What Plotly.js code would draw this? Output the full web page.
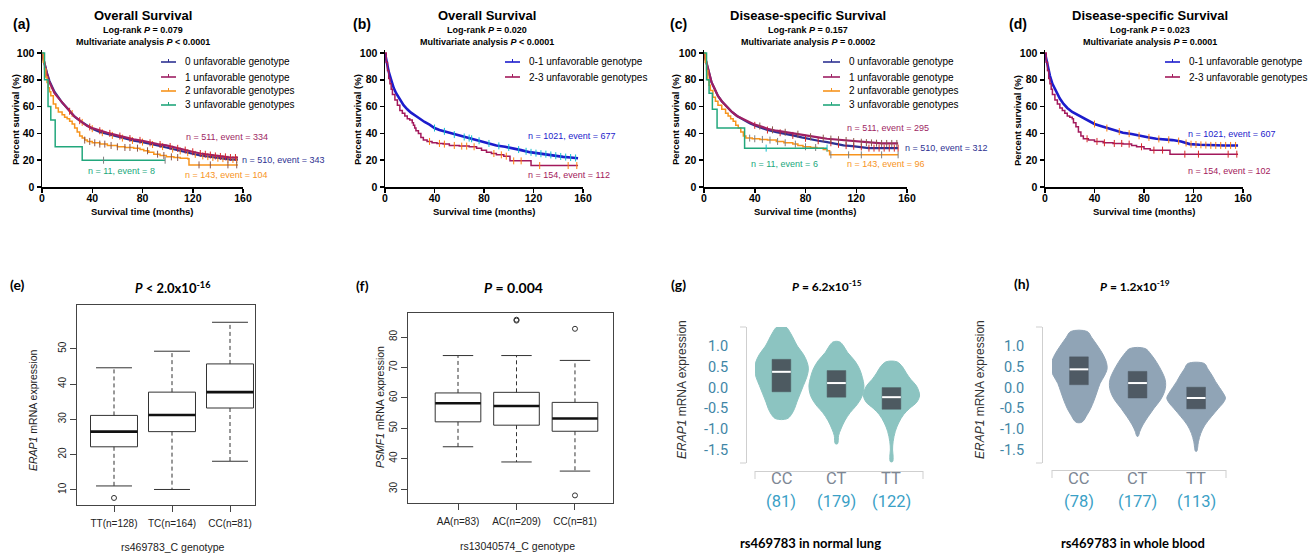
<!DOCTYPE html>
<html><head><meta charset="utf-8">
<script src="https://cdn.plot.ly/plotly-3.0.1.min.js"></script>
<style>html,body{margin:0;padding:0;background:#fff}#chart{width:1311px;height:556px}</style>
</head><body><div id="chart"></div>
<script>
// ---------------- DATA ----------------
// Kaplan-Meier curves (time in months, survival %), censor times
const km_xticks = [0, 40, 80, 120, 160];
const km_yticks = [0, 20, 40, 60, 80, 100];

// (a) Overall survival, 4 groups
const a0_t = [0,2,4,6,8,10,13,16,20,23,26,30,33,36,40,46,52,60,66,73,80,86,92,99,105,112,119,126,133,139,146,150,156];
const a0_s = [100,92,85,79,75,71,67,63,59,56,52.5,49.5,47.5,45.5,43.5,41,39.5,37.5,36,34.5,33.5,32,31,29.5,28,26.5,25,23.5,22.5,21.5,21,20.5,20.5];
const a0_c = [24,32,40,48,56,64,72,80,88,96,104,110,116,122,128,132,136,140,144,148,152,155];
const a1_t = [0,2,4,6,8,10,13,16,20,23,26,30,33,36,40,46,52,60,66,73,80,86,92,99,105,112,119,126,133,139,146,150,156];
const a1_s = [100,91,84,78,74,70,66.5,63,58.5,55.5,52.5,49.5,47.5,45.5,44,42,40.5,38.5,37,35.5,34.5,33,32,31,29.5,28,26.5,25,24,23,22.5,22,22];
const a1_c = [22,30,38,46,54,62,70,78,86,94,102,108,114,120,126,130,134,138,142,146,150,154];
const a2_t = [0,1,2,3,4,5,6,7,9,11,13,16,18,20,22,24,26,28,30,32,34,36,40,46,52,60,66,73,78,81,85,89,94,99,105,110,116,117,125,140,156];
const a2_s = [100,93,88,82,78,74,71,68,62,59,56,54,52,51,49,47,44,41,38,36.5,35,34,33,32,31,30,29.5,29,28,27,26,24.5,23.5,22.5,22,21.5,21,16.5,16.5,16.5,16.5];
const a2_c = [34,38,42,46,50,55,60,66,70,76,84,92,97,103,108,125,134,148,155];
const a3_t = [0,2,4.8,7,10.5,32,98];
const a3_s = [100,80,60,50,30,20,20];
const a3_c = [49,98];

// (b) Overall survival, 2 groups
const b0_t = [0,1,2,3,5,7,9,12,15,18,21,25,28,32,36,40,44,48,53,58,63,68,74,80,86,90,97,103,110,117,124,130,137,144,150,156];
const b0_s = [100,95,90,86,80,74,70,65,61,58,55.5,53,51,48.5,46.5,44,42.5,41.5,40,38.5,37.5,36.5,35,33.5,32,31,30,29,27.5,26,25,24.5,23.5,22.5,22,21.5];
const b0_c = [40,48,56,64,68,70,76,84,92,100,108,114,118,122,126,130,134,138,142,146,150,154];
const b1_t = [0,1,2,3,4,5,6,8,10,12,14,16,18,20,22,23,24,25,27,29,31,34,38,42,47,52,60,68,74,78,82,86,90,96,101,106,112,118,125,140,156];
const b1_s = [100,93,87,81,77,73,69,65,61,57,55,53,51,50,48,46,44,42,40,37,35,34,33,32.5,32,31,30.5,30,29,27.5,26,25,24,23,19.5,19.5,19.5,16,16,16,16];
const b1_c = [36,44,48,56,62,66,72,88,94,98,104,110,125,148,155];

// (c) Disease-specific survival, 4 groups
const c0_t = [0,2,4,6,8,11,14,18,22,26,31,36,40,44,50,57,63,70,77,84,90,97,103,110,117,123,130,140,153];
const c0_s = [100,92,84,78,74,68,64,60,56,53,50,47.5,46,44.5,42.5,41,40,38.5,37,35.5,34.5,33.5,32.5,31,30.5,30,29,29,29];
const c0_c = [40,50,60,70,80,90,100,106,112,118,124,130,134,138,142,146,150,153];
const c1_t = [0,2,4,6,8,11,14,18,22,26,31,36,40,44,50,57,63,70,77,84,90,97,103,110,117,123,130,140,153];
const c1_s = [100,92,84,78,74,68,64,60,56,53,50.5,48,46.5,45.5,43.5,42,41,40,39,37.5,37,36,35.5,35,34,33.5,33,32.5,32.5];
const c1_c = [44,54,64,74,84,94,100,106,112,118,124,128,132,136,140,144,148,152];
const c2_t = [0,1,2,3,4,5,7,9,11,14,17,19,21,23,25,27,29,31,33,38,44,50,57,63,70,74,78,84,89,94,97,99,110,130,153];
const c2_s = [100,93,87,80,76,72,67,64,61,58,55,53,51,49,46,44,41,38,36.5,36,35.5,35,34,33,32,31,30,29.5,29,28,27,24,24,24,24];
const c2_c = [36,40,46,52,58,64,72,80,88,100,114,124,140,153];
const c3_t = [0,2,4,6.6,10.3,32,97];
const c3_s = [100,80,70,58,44,29,29];
const c3_c = [49,97];

// (d) Disease-specific survival, 2 groups
const d0_t = [0,1,2,4,6,9,12,15,18,22,25,28,32,36,40,45,50,56,63,70,77,84,90,97,103,110,117,125,135,145,156];
const d0_s = [100,95,90,83,77,71,66,62,59,56,54.5,53,51,49,47,45.5,44,42.5,40.5,39.5,38,37,36,35.5,35,34,32,31.5,31,31,31];
const d0_c = [40,50,60,68,76,84,92,100,108,114,118,122,126,130,134,138,142,146,150,154];
const d1_t = [0,1,2,3,4,5,6,8,10,12,14,16,18,20,22,23,25,27,29,31,35,40,47,55,63,70,74,80,85,92,98,101,115,130,156];
const d1_s = [100,93,87,81,77,73,69,65,62,59,57,55,53,52,51,48,45,41,38,36,35,34,33,32.5,32,31,30,28.5,27.5,27.5,27.5,24.5,24.5,24.5,24.5];
const d1_c = [34,42,48,56,62,68,78,88,95,113,124,148,155];

const names4 = ["0 unfavorable genotype","1 unfavorable genotype","2 unfavorable genotypes","3 unfavorable genotypes"];
const names2 = ["0-1 unfavorable genotype","2-3 unfavorable genotypes"];

// (e) ERAP1 boxplot
const e_groups = ["TT(n=128)","TC(n=164)","CC(n=81)"];
const e_lo  = [11.1,10.1,18.1];
const e_q1  = [22.2,26.5,33.2];
const e_med = [26.5,31.2,37.7];
const e_q3  = [31.1,37.7,45.7];
const e_hi  = [44.6,49.3,57.5];
const e_out_g = [0];
const e_out_v = [7.7];
const e_yticks = [10,20,30,40,50];

// (f) PSMF1 boxplot
const f_groups = ["AA(n=83)","AC(n=209)","CC(n=81)"];
const f_lo  = [43.9,38.9,35.9];
const f_q1  = [52.1,51.0,49.0];
const f_med = [58.2,57.3,53.2];
const f_q3  = [61.6,61.8,58.5];
const f_hi  = [73.9,73.9,72.3];
const f_out_g = [1,1,2,2];
const f_out_v = [85.4,85.7,82.7,27.9];
const f_yticks = [30,40,50,60,70,80];

// (g) violins, normal lung
const g_groups = ["CC","CT","TT"];
const g_counts = ["(81)","(179)","(122)"];
const g_q1  = [-0.10,-0.23,-0.52];
const g_med = [0.38,0.11,-0.23];
const g_q3  = [0.68,0.41,0.00];
const g_cc_y = [1.46,1.3,1.15,1.0,0.8,0.6,0.45,0.25,0.05,-0.15,-0.35,-0.5,-0.65,-0.75];
const g_cc_w = [0.08,0.17,0.23,0.29,0.40,0.47,0.49,0.46,0.40,0.34,0.28,0.24,0.18,0.10];
const g_ct_y = [1.1,1.0,0.85,0.65,0.45,0.25,0.05,-0.15,-0.3,-0.45,-0.6,-0.8,-1.0,-1.15,-1.35];
const g_ct_w = [0.06,0.13,0.20,0.33,0.42,0.47,0.50,0.48,0.43,0.35,0.25,0.15,0.08,0.04,0.02];
const g_tt_y = [0.62,0.5,0.35,0.2,0.05,-0.1,-0.2,-0.35,-0.5,-0.65,-0.85,-1.05,-1.3,-1.5,-1.65,-1.78];
const g_tt_w = [0.10,0.20,0.27,0.35,0.45,0.50,0.51,0.46,0.33,0.22,0.13,0.07,0.03,0.02,0.03,0.02];

// (h) violins, whole blood
const h_groups = ["CC","CT","TT"];
const h_counts = ["(78)","(177)","(113)"];
const h_q1  = [0.07,-0.25,-0.51];
const h_med = [0.44,0.11,-0.25];
const h_q3  = [0.74,0.39,0.01];
const h_cc_y = [1.35,1.2,1.0,0.8,0.6,0.45,0.3,0.1,-0.1,-0.3,-0.5,-0.65,-0.83];
const h_cc_w = [0.14,0.22,0.32,0.41,0.47,0.48,0.44,0.36,0.31,0.26,0.20,0.14,0.05];
const h_ct_y = [0.94,0.8,0.6,0.4,0.2,0.05,-0.1,-0.3,-0.5,-0.7,-0.9,-1.05,-1.17];
const h_ct_w = [0.13,0.23,0.33,0.41,0.47,0.48,0.46,0.39,0.28,0.18,0.09,0.04,0.01];
const h_tt_y = [0.58,0.45,0.3,0.15,0.0,-0.15,-0.25,-0.35,-0.5,-0.7,-0.9,-1.1,-1.3,-1.53];
const h_tt_w = [0.14,0.20,0.27,0.33,0.40,0.47,0.50,0.47,0.38,0.26,0.15,0.08,0.04,0.01];

const v_yticks = [-1.5,-1.0,-0.5,0.0,0.5,1.0];
const v_yticktext = ["-1.5","-1.0","-0.5","0.0","0.5","1.0"];

// ---------------- HELPERS ----------------
const W = 1311, H = 556;
const px = v => v / W, py = v => 1 - v / H;
const F = 'Liberation Sans, Arial, sans-serif';
const FC = 'Lato, "Open Sans", sans-serif';
const FR = 'Roboto, "Liberation Sans", sans-serif';

const C_navy = '#2e3192', C_crim = '#9e1f63', C_org = '#f7941d', C_grn = '#22a77c';
const C_blue = '#1c1ccc', C_crim2 = '#a3195b';

function stepAt(t, s, c) { let v = s[0]; for (let i = 0; i < t.length; i++) { if (t[i] <= c) v = s[i]; } return v; }
function linAt(t, s, c) {
  for (let i = 1; i < t.length; i++) {
    if (c <= t[i]) { const f = (c - t[i-1]) / (t[i] - t[i-1]); return s[i-1] + f * (s[i] - s[i-1]); }
  }
  return s[s.length - 1];
}

const traces = [];
function km(t, s, c, color, name, n, shape, width) {
  const xa = 'x' + (n === 1 ? '' : n), ya = 'y' + (n === 1 ? '' : n);
  traces.push({type:'scatter', mode:'lines', x:t, y:s, name:name, xaxis:xa, yaxis:ya,
    line:{color:color, width:width, shape:shape}, hoverinfo:'skip'});
  const f = shape === 'linear' ? linAt : stepAt;
  traces.push({type:'scatter', mode:'markers', x:c, y:c.map(v => f(t, s, v)), name:name + ' (censored)',
    xaxis:xa, yaxis:ya, marker:{symbol:'line-ns-open', size:5, line:{color:color, width:1}}, hoverinfo:'skip'});
}
// (a)
km(a0_t, a0_s, a0_c, C_navy, names4[0], 1, 'linear', 2.2);
km(a1_t, a1_s, a1_c, C_crim, names4[1], 1, 'linear', 2.2);
km(a2_t, a2_s, a2_c, C_org, names4[2], 1, 'hv', 1.5);
km(a3_t, a3_s, a3_c, C_grn, names4[3], 1, 'hv', 1.5);
// (b)
km(b0_t, b0_s, b0_c, C_blue, names2[0], 2, 'linear', 2.6);
km(b1_t, b1_s, b1_c, C_crim2, names2[1], 2, 'hv', 1.5);
// (c)
km(c0_t, c0_s, c0_c, C_navy, names4[0], 3, 'linear', 2.2);
km(c1_t, c1_s, c1_c, C_crim, names4[1], 3, 'linear', 2.2);
km(c2_t, c2_s, c2_c, C_org, names4[2], 3, 'hv', 1.5);
km(c3_t, c3_s, c3_c, C_grn, names4[3], 3, 'hv', 1.5);
// (d)
km(d0_t, d0_s, d0_c, C_blue, names2[0], 4, 'linear', 2.6);
km(d1_t, d1_s, d1_c, C_crim2, names2[1], 4, 'hv', 1.5);

// R-style boxplots
function rbox(lo, q1, med, q3, hi, og, ov, n, hw, cw) {
  const xa = 'x' + n, ya = 'y' + n;
  const bx = [], by = [], mx = [], my = [], wx = [], wy = [], cx = [], cy = [];
  for (let i = 0; i < q1.length; i++) {
    bx.push(i-hw, i+hw, i+hw, i-hw, i-hw, null); by.push(q1[i], q1[i], q3[i], q3[i], q1[i], null);
    mx.push(i-hw, i+hw, null); my.push(med[i], med[i], null);
    wx.push(i, i, null, i, i, null); wy.push(q3[i], hi[i], null, q1[i], lo[i], null);
    cx.push(i-cw, i+cw, null, i-cw, i+cw, null); cy.push(hi[i], hi[i], null, lo[i], lo[i], null);
  }
  traces.push({type:'scatter', mode:'lines', x:wx, y:wy, xaxis:xa, yaxis:ya, line:{color:'#333', width:1, dash:'4px,3px'}, hoverinfo:'skip'});
  traces.push({type:'scatter', mode:'lines', x:cx, y:cy, xaxis:xa, yaxis:ya, line:{color:'#333', width:1}, hoverinfo:'skip'});
  traces.push({type:'scatter', mode:'lines', x:bx, y:by, xaxis:xa, yaxis:ya, fill:'none', line:{color:'#333', width:1}, hoverinfo:'skip'});
  traces.push({type:'scatter', mode:'lines', x:mx, y:my, xaxis:xa, yaxis:ya, line:{color:'#111', width:2.6}, hoverinfo:'skip'});
  traces.push({type:'scatter', mode:'markers', x:og, y:ov, xaxis:xa, yaxis:ya, marker:{symbol:'circle-open', size:5, color:'#333', line:{width:1}}, hoverinfo:'skip'});
}
rbox(e_lo, e_q1, e_med, e_q3, e_hi, e_out_g, e_out_v, 5, 0.405, 0.31);
rbox(f_lo, f_q1, f_med, f_q3, f_hi, f_out_g, f_out_v, 6, 0.39, 0.26);

// violins
function violin(pos, ys, ws, color, n) {
  const x = ws.map(w => pos + w).concat(ws.slice().reverse().map(w => pos - w));
  const y = ys.concat(ys.slice().reverse());
  x.push(x[0]); y.push(y[0]);
  traces.push({type:'scatter', mode:'lines', x:x, y:y, xaxis:'x'+n, yaxis:'y'+n, fill:'toself', fillcolor:color,
    line:{color:color, width:1, shape:'spline', smoothing:1}, hoverinfo:'skip'});
}
function vbox(q1, med, q3, hw, dark, n) {
  for (let i = 0; i < q1.length; i++) {
    traces.push({type:'scatter', mode:'lines', x:[i-hw, i+hw, i+hw, i-hw, i-hw], y:[q1[i], q1[i], q3[i], q3[i], q1[i]],
      xaxis:'x'+n, yaxis:'y'+n, fill:'toself', fillcolor:dark, line:{color:dark, width:0.5}, hoverinfo:'skip'});
    traces.push({type:'scatter', mode:'lines', x:[i-hw, i+hw], y:[med[i], med[i]], xaxis:'x'+n, yaxis:'y'+n,
      line:{color:'#ffffff', width:2}, hoverinfo:'skip'});
  }
}
const G_fill = '#8cc4c1', G_dark = '#4d5a61';
const Hh_fill = '#90a4b6', Hh_dark = '#4f5a64';
violin(0, g_cc_y, g_cc_w, G_fill, 7);
violin(1, g_ct_y, g_ct_w, G_fill, 7);
violin(2, g_tt_y, g_tt_w, G_fill, 7);
vbox(g_q1, g_med, g_q3, 0.17, G_dark, 7);
violin(0, h_cc_y, h_cc_w, Hh_fill, 8);
violin(1, h_ct_y, h_ct_w, Hh_fill, 8);
violin(2, h_tt_y, h_tt_w, Hh_fill, 8);
vbox(h_q1, h_med, h_q3, 0.16, Hh_dark, 8);

// ---------------- AXES ----------------
const layout = {
  width: W, height: H, margin:{l:0, r:0, t:0, b:0}, paper_bgcolor:'#fff', plot_bgcolor:'rgba(0,0,0,0)',
  showlegend:false, font:{family:F, color:'#000'}, annotations:[], shapes:[]
};
function kmAxes(n, x0, x1) {
  const sx = n === 1 ? 'xaxis' : 'xaxis' + n, sy = n === 1 ? 'yaxis' : 'yaxis' + n;
  const ax = n === 1 ? 'x' : 'x' + n, ay = n === 1 ? 'y' : 'y' + n;
  const tf = {family:F, size:10.5, color:'#000', weight:'bold'};
  layout[sx] = {domain:[px(x0), px(x1)], anchor:ay, range:[0,160], tickvals:km_xticks, ticks:'outside', ticklen:4, tickwidth:1.5,
    tickcolor:'#000', showline:true, linewidth:1.5, linecolor:'#000', showgrid:false, zeroline:false, tickfont:tf, ticklabelstandoff:-3};
  layout[sy] = {domain:[py(187), py(50.3)], anchor:ax, range:[0,102], tickvals:km_yticks, ticks:'outside', ticklen:4, tickwidth:1.5,
    tickcolor:'#000', showline:true, linewidth:1.5, linecolor:'#000', showgrid:false, zeroline:false, tickfont:tf};
}
kmAxes(1, 42, 243);
kmAxes(2, 385, 583);
kmAxes(3, 704, 907);
kmAxes(4, 1045, 1243);

function boxAxes(n, x0, x1, y0, y1, xr, yr, groups, yt) {
  const tf = {family:F, size:10, color:'#222'};
  layout['xaxis'+n] = {domain:[px(x0), px(x1)], anchor:'y'+n, range:xr, tickvals:groups.map((g,i)=>i), ticktext:groups,
    ticks:'outside', ticklen:6, tickcolor:'#444', showline:true, mirror:true, linecolor:'#444', linewidth:1, showgrid:false, zeroline:false,
    tickfont:tf, ticklabelstandoff:3};
  layout['yaxis'+n] = {domain:[py(y1), py(y0)], anchor:'x'+n, range:yr, tickvals:yt, tickangle:-90,
    ticks:'outside', ticklen:6, tickcolor:'#444', showline:true, mirror:true, linecolor:'#444', linewidth:1, showgrid:false, zeroline:false, tickfont:tf};
}
boxAxes(5, 77, 255, 305, 505, [-0.638, 2.431], [5.7, 62.4], e_groups, e_yticks);
boxAxes(6, 408, 613, 313, 503, [-0.855, 2.65], [25.4, 87.9], f_groups, f_yticks);

function vAxes(n, x0, x1, yax, xline, xr) {
  layout['xaxis'+n] = {domain:[px(x0), px(x1)], anchor:'free', position:py(xline), range:xr, showticklabels:false, ticks:'',
    tickvals:[], showline:true, linecolor:'#cfcfcf', linewidth:1, showgrid:false, zeroline:false};
  layout['yaxis'+n] = {domain:[py(463), py(327)], anchor:'free', position:px(yax), range:[-1.813, 1.458], tickvals:v_yticks, ticktext:v_yticktext,
    ticks:'outside', ticklen:15, tickcolor:'rgba(0,0,0,0)', showline:true, linecolor:'#cfcfcf', linewidth:1, showgrid:false, zeroline:false,
    tickfont:{family:FR, size:14.5, color:'#3f86a6'}};
}
vAxes(7, 755, 923, 746, 471, [-0.48, 2.573]);
vAxes(8, 1052, 1226, 1042, 470, [-0.46, 2.51]);

// ---------------- TEXT ----------------
function ann(text, x, y, font, o) {
  layout.annotations.push(Object.assign({text:text, x:px(x), y:py(y), xref:'paper', yref:'paper', showarrow:false,
    xanchor:'center', yanchor:'middle', font:Object.assign({family:F, size:10, color:'#000'}, font)}, o || {}));
}
// panel labels
[["(a)",21,24],["(b)",362,24],["(c)",678,24],["(d)",1018,24]].forEach(p => ann('<b>'+p[0]+'</b>', p[1], p[2], {size:14}));
[["(e)",17,284],["(f)",362,285],["(g)",678,284],["(h)",1022,283]].forEach(p => ann('<b>'+p[0]+'</b>', p[1], p[2], {family:FC, size:14}));

// KM titles
const kmTitles = [
  [143, "Overall Survival", "Log-rank <i>P</i> = 0.079", "Multivariate analysis <i>P</i> &lt; 0.0001"],
  [487, "Overall Survival", "Log-rank <i>P</i> = 0.020", "Multivariate analysis <i>P</i> &lt; 0.0001"],
  [808, "Disease-specific Survival", "Log-rank <i>P</i> = 0.157", "Multivariate analysis <i>P</i> = 0.0002"],
  [1150, "Disease-specific Survival", "Log-rank <i>P</i> = 0.023", "Multivariate analysis <i>P</i> = 0.0001"]
];
kmTitles.forEach(t => {
  ann('<b>'+t[1]+'</b>', t[0], 15, {size:13});
  ann('<b>'+t[2]+'</b>', t[0], 30, {size:9});
  ann('<b>'+t[3]+'</b>', t[0], 42, {size:9});
});
// KM axis titles
[[15,142],[357,484],[675,805],[1017,1144]].forEach(p => {
  ann('<b>Percent survival (%)</b>', p[0], 120, {size:9.5}, {textangle:-90});
  ann('<b>Survival time (months)</b>', p[1], 211, {size:9.5});
});
// KM legends
function kmLegend(x1, x2, xt, rows, names, colors) {
  rows.forEach((y, i) => {
    layout.shapes.push({type:'line', xref:'paper', yref:'paper', x0:px(x1), x1:px(x2), y0:py(y), y1:py(y), line:{color:colors[i], width:1.6}});
    layout.shapes.push({type:'line', xref:'paper', yref:'paper', x0:px((x1+x2)/2), x1:px((x1+x2)/2), y0:py(y-3), y1:py(y), line:{color:colors[i], width:1}});
    ann(names[i], xt, y, {size:10}, {xanchor:'left'});
  });
}
kmLegend(161, 176, 183, [62,77,91,105], names4, [C_navy, C_crim, C_org, C_grn]);
kmLegend(505, 520, 527, [62,77], names2, [C_blue, C_crim2]);
kmLegend(823, 840, 847, [62,77,91,105], names4, [C_navy, C_crim, C_org, C_grn]);
kmLegend(1165, 1180, 1187, [62,77], names2, [C_blue, C_crim2]);
// KM n/event labels
[
  ["n = 511, event = 334", 184, 137, C_crim], ["n = 510, event = 343", 240, 160, C_navy],
  ["n = 11, event = 8", 86, 171, C_grn], ["n = 143, event = 104", 183, 175, C_org],
  ["n = 1021, event = 677", 526, 136, C_blue], ["n = 154, event = 112", 526, 175, C_crim2],
  ["n = 511, event = 295", 845, 128, C_crim], ["n = 510, event = 312", 903, 148, C_navy],
  ["n = 11, event = 6", 749, 164, C_grn], ["n = 143, event = 96", 845, 164, C_org],
  ["n = 1021, event = 607", 1186, 134, C_blue], ["n = 154, event = 102", 1186, 171, C_crim2]
].forEach(a => ann(a[0], a[1], a[2], {size:9, color:a[3]}, {xanchor:'left'}));

// bottom titles
ann('<b><i>P</i> &lt; 2.0x10<sup>-16</sup></b>', 172, 287, {family:FC, size:13});
ann('<b><i>P</i> = 0.004</b>', 513, 287, {family:FC, size:14});
ann('<b><i>P</i> = 6.2x10<sup>-15</sup></b>', 827, 286, {family:FC, size:12});
ann('<b><i>P</i> = 1.2x10<sup>-19</sup></b>', 1135, 286, {family:FC, size:12});
// box axis titles
ann('<i>ERAP1</i> mRNA expression', 33, 410, {size:10.5, color:'#222'}, {textangle:-90});
ann('<i>PSMF1</i> mRNA expression', 380, 407, {size:10.5, color:'#222'}, {textangle:-90});
ann('rs469783_C genotype', 172, 547, {size:10.5, color:'#222'});
ann('rs13040574_C genotype', 517, 546, {size:10.5, color:'#222'});
// violin titles
ann('<i>ERAP1</i> mRNA expression', 682, 390, {size:12, color:'#333'}, {textangle:-90});
ann('<i>ERAP1</i> mRNA expression', 980, 390, {size:12, color:'#333'}, {textangle:-90});
ann('<b>rs469783 in normal lung</b>', 810, 543, {family:FC, size:13});
ann('<b>rs469783 in whole blood</b>', 1133, 543, {family:FC, size:13});
// violin category labels
function vLabels(n, groups, counts) {
  groups.forEach((g, i) => {
    layout.annotations.push({text:g, x:i, y:py(478), xref:'x'+n, yref:'paper', showarrow:false, xanchor:'center', yanchor:'middle',
      borderpad:0, font:{family:FR, size:16.5, color:'#7d8794'}});
    layout.annotations.push({text:counts[i], x:i, y:py(501), xref:'x'+n, yref:'paper', showarrow:false, xanchor:'center', yanchor:'middle',
      borderpad:0, font:{family:FR, size:16.5, color:'#3aa0c6'}});
  });
}
vLabels(7, g_groups, g_counts);
vLabels(8, h_groups, h_counts);
// violin axis bracket ends
function vl(x0, y0, x1, y1) { layout.shapes.push({type:'line', xref:'paper', yref:'paper', x0:px(x0), y0:py(y0), x1:px(x1), y1:py(y1), line:{color:'#cfcfcf', width:1}}); }
vl(740, 327, 746, 327); vl(740, 463, 746, 463); vl(755, 471, 755, 479); vl(923, 471, 923, 479);
vl(1036, 327, 1042, 327); vl(1036, 463, 1042, 463); vl(1052, 470, 1052, 478); vl(1226, 470, 1226, 478);

Plotly.newPlot('chart', traces, layout, {staticPlot:true, displayModeBar:false});
</script></body></html>
